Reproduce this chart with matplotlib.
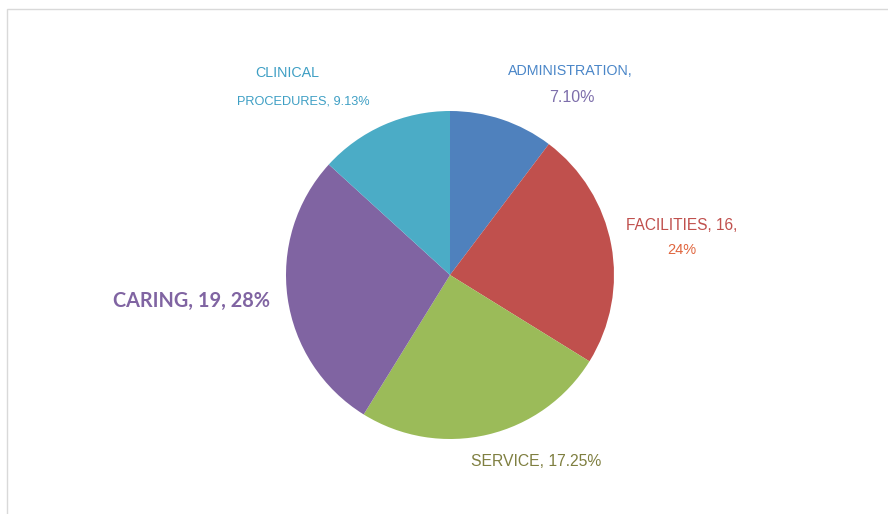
import matplotlib.pyplot as plt
from matplotlib.patches import Rectangle

categories = ['ADMINISTRATION', 'FACILITIES', 'SERVICE', 'CARING', 'CLINICAL PROCEDURES']
values = [7, 16, 17, 19, 9]
colors = ['#4F81BD', '#C0504D', '#9BBB59', '#8064A2', '#4BACC6']

# label lines as they appear on the chart: (text, x, y, colour, size, weight)
label_lines = [
    ('CLINICAL', 255, 73, '#3E9FC4', 10.3, 'normal'),
    ('PROCEDURES, 9.13%', 237, 102, '#3E9FC4', 9.2, 'normal'),
    ('ADMINISTRATION,', 508, 71, '#4A86C8', 10.3, 'normal'),
    ('7.10%', 549, 97, '#7D6EAB', 11.5, 'normal'),
    ('FACILITIES, 16,', 626, 226, '#C0504D', 11.2, 'normal'),
    ('24%', 667, 250, '#E0663F', 10.5, 'normal'),
    ('SERVICE, 17.25%', 471, 462, '#7F7F40', 11.3, 'normal'),
    ('CARING, 19, 28%', 113, 301, '#8064A2', 14.3, 'bold'),
]

W, H = 888, 514
dpi = 100
fig = plt.figure(figsize=(W / dpi, H / dpi), dpi=dpi)
ax = fig.add_axes([0, 0, 1, 1])

# light frame around the chart area
ax.add_patch(Rectangle((7, -5), W, H - 9 + 5, fill=False,
                       edgecolor='#d9d9d9', linewidth=1))

ax.pie(values, colors=colors, startangle=90, counterclock=False,
       center=(450, H - 275), radius=164, frame=True,
       wedgeprops={'linewidth': 0})
ax.set_xlim(0, W)
ax.set_ylim(0, H)
ax.set_aspect('equal')
ax.axis('off')

for text, x, y, c, size, weight in label_lines:
    fam = ['Lato', 'DejaVu Sans'] if weight == 'bold' else ['Liberation Sans', 'DejaVu Sans']
    ax.text(x, H - y, text, color=c, fontsize=size, fontweight=weight,
            ha='left', va='center', family=fam)

fig.savefig('out.png', dpi=dpi)
